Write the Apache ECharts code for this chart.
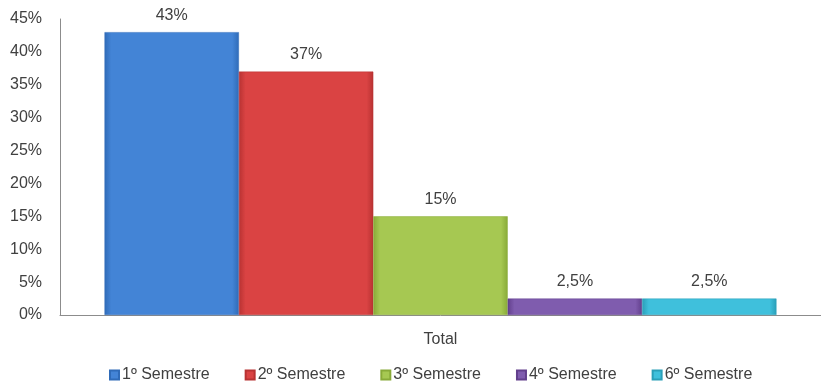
<!DOCTYPE html>
<html>
<head>
<meta charset="utf-8">
<script src="https://cdn.jsdelivr.net/npm/echarts@6/dist/echarts.min.js"></script>
<style>html,body{margin:0;padding:0;background:#fff}#c{width:821px;height:388px}</style>
</head>
<body>
<div id="c"></div>
<script>
const categories = ['Total'];
const seriesNames = ['1º Semestre', '2º Semestre', '3º Semestre', '4º Semestre', '6º Semestre'];
const seriesValues = [43, 37, 15, 2.5, 2.5];
const yTicks = [0, 5, 10, 15, 20, 25, 30, 35, 40, 45];

const palette = [
  ['#2f6bb8', '#4384d6', '#2f6bb8'],
  ['#b83232', '#da4343', '#b83232'],
  ['#88aa38', '#a6c852', '#88aa38'],
  ['#623f8c', '#7f5cae', '#623f8c'],
  ['#2a9fb8', '#3fc0dc', '#2a9fb8']
];
const font = 'Liberation Sans, Arial, sans-serif';
const txt = '#404040';

const chart = echarts.init(document.getElementById('c'), null, {renderer: 'canvas'});
chart.setOption({
  animation: false,
  grid: {left: 60, right: 0, top: 19, bottom: 73, containLabel: false},
  legend: {
    bottom: 0, left: 104, icon: 'rect', itemWidth: 9, itemHeight: 9, itemGap: 35,
    textStyle: {fontFamily: font, fontSize: 16, color: txt, padding: [0, 0, 0, -2]},
    data: seriesNames
  },
  xAxis: {
    type: 'category', data: categories,
    axisLine: {lineStyle: {color: '#8c8c8c'}},
    axisTick: {show: false},
    axisLabel: {fontFamily: font, fontSize: 16, color: txt, margin: 17}
  },
  yAxis: {
    type: 'value', min: 0, max: yTicks[yTicks.length - 1], interval: 5,
    axisLine: {show: true, lineStyle: {color: '#8c8c8c'}},
    axisTick: {show: false},
    splitLine: {show: false},
    axisLabel: {fontFamily: font, fontSize: 16, color: txt, margin: 18, formatter: v => v + '%'}
  },
  series: seriesNames.map((name, i) => ({
    name, type: 'bar', barGap: '0%', barCategoryGap: '11.7%',
    data: [seriesValues[i]],
    itemStyle: {
      color: new echarts.graphic.LinearGradient(0, 0, 1, 0, [
        {offset: 0, color: palette[i][0]},
        {offset: 0.05, color: palette[i][1]},
        {offset: 0.95, color: palette[i][1]},
        {offset: 1, color: palette[i][2]}
      ]),
      borderColor: palette[i][0], borderWidth: 0.5
    },
    label: {
      show: true, position: 'top', distance: 9,
      fontFamily: font, fontSize: 16, color: txt,
      formatter: p => String(p.value).replace('.', ',') + '%'
    }
  }))
});
</script>
</body>
</html>
